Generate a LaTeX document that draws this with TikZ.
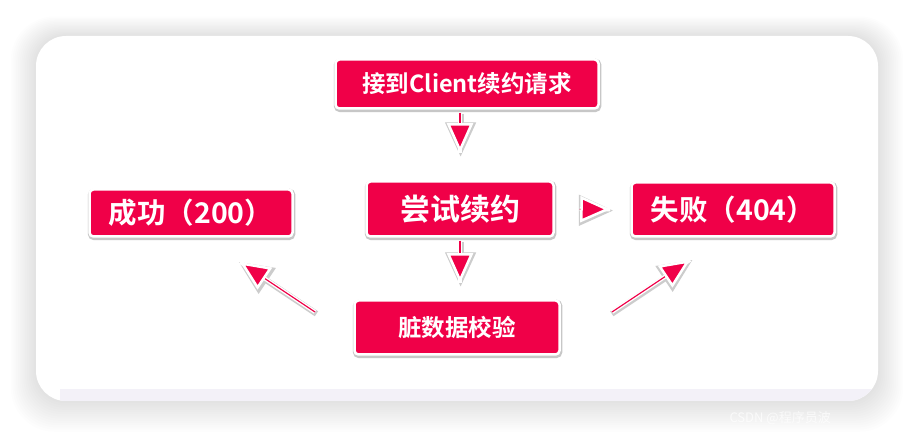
\documentclass[tikz,border=0pt]{standalone}
\usepackage{fontspec}
\newfontfamily\cjkfont{Noto Sans CJK SC}[BoldFont={Noto Sans CJK SC Bold}]
\usetikzlibrary{arrows.meta,shadows}

\definecolor{boxred}{RGB}{240,0,72}
\definecolor{bandgray}{RGB}{243,241,248}

\tikzset{
  redbox/.style={draw=white, line width=2.5pt, fill=boxred, rounded corners=4pt,
    text=white, inner sep=0pt,
    general shadow={fill=black!22, draw=black!22, line width=4.5pt,
      shadow xshift=0.6pt, shadow yshift=-1.4pt}},
  flowarrow/.style={draw=boxred, line width=1.2pt,
    preaction={draw=white, line width=4pt, -},
    -{Triangle[color=white, fill=boxred, length=30pt, width=26pt, line width=2.5pt]}},
  arrowshade/.style={draw=black!20, line width=6pt,
    -{Triangle[color=black!20, fill=black!20, length=34pt, width=31pt, line width=1pt]},
    transform canvas={shift={(0.6pt,-1.2pt)}}}
}

\begin{document}
\begin{tikzpicture}[x=1pt, y=-1pt]
  \useasboundingbox (0,0) rectangle (914,438);
  \fill[white] (0,0) rectangle (914,438);

  % soft shadow round the card
  \foreach \i in {1,...,14}
    \fill[black, opacity=0.009, rounded corners=30pt+\i pt]
      (36-1.8*\i, 36-1.4*\i) rectangle (878+1.8*\i, 401+2.2*\i);

  % card
  \fill[white, rounded corners=30pt] (36,36) rectangle (878,401);
  \begin{scope}
    \clip[rounded corners=30pt] (36,36) rectangle (878,401);
    \fill[bandgray] (60,389) rectangle (878,401);
  \end{scope}

  % boxes
  \node[redbox, minimum width=263pt, minimum height=49pt,
    font=\cjkfont\bfseries\fontsize{23.5}{27}\selectfont] (request) at (467,84) {接到Client续约请求};
  \node[redbox, minimum width=187pt, minimum height=55pt,
    font=\cjkfont\bfseries\fontsize{30}{34}\selectfont] (renew) at (460,209) {尝试续约};
  \node[redbox, minimum width=203pt, minimum height=47pt,
    font=\cjkfont\bfseries\fontsize{28.5}{32}\selectfont] (success) at (191,213) {成功（200）};
  \node[redbox, minimum width=203pt, minimum height=54pt,
    font=\cjkfont\bfseries\fontsize{28.5}{32}\selectfont] (fail) at (733,209.5) {失败（404）};
  \node[redbox, minimum width=205pt, minimum height=54pt,
    font=\cjkfont\bfseries\fontsize{23.5}{27}\selectfont] (check) at (457,327.5) {脏数据校验};

  % free ends of the diagonal arrows
  \coordinate (leftfrom) at (315,312);
  \coordinate (leftto) at (240,262);
  \coordinate (rightfrom) at (612,312);
  \coordinate (rightto) at (690,260);

  % arrow shadows
  \draw[arrowshade, shorten <=3pt, shorten >=25pt] (request.south -| renew.north) -- (renew.north);
  \draw[arrowshade, shorten <=3pt, shorten >=14pt] (renew.south) -- (renew.south |- check.north);
  \draw[arrowshade, shorten <=24pt, shorten >=18pt] (renew.east) -- (fail.west);
  \draw[arrowshade, shorten <=-1pt, shorten >=-2pt] (leftfrom) -- (leftto);
  \draw[arrowshade, shorten <=-1pt, shorten >=-2pt] (rightfrom) -- (rightto);

  % arrows
  \draw[flowarrow, shorten <=3pt, shorten >=27pt] (request.south -| renew.north) -- (renew.north);
  \draw[flowarrow, shorten <=3pt, shorten >=16pt] (renew.south) -- (renew.south |- check.north);
  \draw[flowarrow, shorten <=25pt, shorten >=20pt] (renew.east) -- (fail.west);
  \draw[flowarrow] (leftfrom) -- (leftto);
  \draw[flowarrow] (rightfrom) -- (rightto);

  % watermark
  \node[text=white, opacity=0.7, font=\cjkfont\fontsize{13}{15}\selectfont, anchor=west] (mark) at (726,418) {CSDN @程序员波};
\end{tikzpicture}
\end{document}
